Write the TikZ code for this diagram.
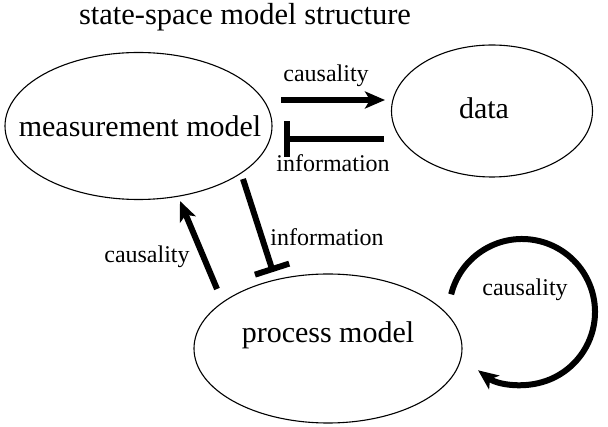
\documentclass[tikz,border=0pt]{standalone}
\usepackage{fontspec}
\setmainfont{Liberation Serif}
\usetikzlibrary{arrows.meta,calc}
\begin{document}
\begin{tikzpicture}[x=1pt,y=-1pt,
  ell/.style={font=\fontsize{30}{32}\selectfont},
  ellline/.style={draw,line width=1.1pt},
  lbl/.style={font=\fontsize{24}{26}\selectfont},
  cause/.style={line width=6pt,-{Stealth[length=20pt,width=17pt,inset=5pt]}},
  info/.style={line width=6pt,-{Bar[width=36pt,line width=6pt]}}]
\useasboundingbox (0,0) rectangle (608,427);
\node[font=\fontsize{30.5}{32}\selectfont] (title) at (245,17) {state-space model structure};
\node[ell] (meas) at (140,126) {measurement model};
\draw[ellline] (138.5,126) ellipse[x radius=133.5, y radius=73.5];
\node[ell] (data) at (484,108) {data};
\draw[ellline] (492,111) ellipse[x radius=100.5, y radius=66];
\node[ell] (proc) at (328,335) {process model};
\draw[ellline] (328,348.5) ellipse[x radius=134, y radius=74.5];
% top pair
\coordinate (c1s) at (281,100);
\coordinate (c1e) at (385,100);
\draw[cause] (c1s) -- (c1e);
\node[lbl] (l1) at (326,76) {causality};
\coordinate (i1s) at (384,139);
\coordinate (i1e) at (284,139);
\draw[info] (i1s) -- (i1e);
\node[lbl] (l2) at (333,163) {information};
% middle pair
\coordinate (c2s) at (217,289);
\coordinate (c2e) at (180,201);
\draw[cause] (c2s) -- (c2e);
\node[lbl] (l3) at (147,257) {causality};
\coordinate (i2s) at (243,179);
\coordinate (i2e) at (273,272);
\draw[info] (i2s) -- (i2e);
\node[lbl] (l4) at (327,237) {information};
% loop
\coordinate (lc) at (522,312);
\draw[line width=6pt,-{Stealth[length=20pt,width=17pt,inset=5pt]}] ($(lc)+(-166:73)$) arc[start angle=-166,end angle=127,radius=73];
\node[lbl] (l5) at (525,290) {causality};
\end{tikzpicture}
\end{document}
